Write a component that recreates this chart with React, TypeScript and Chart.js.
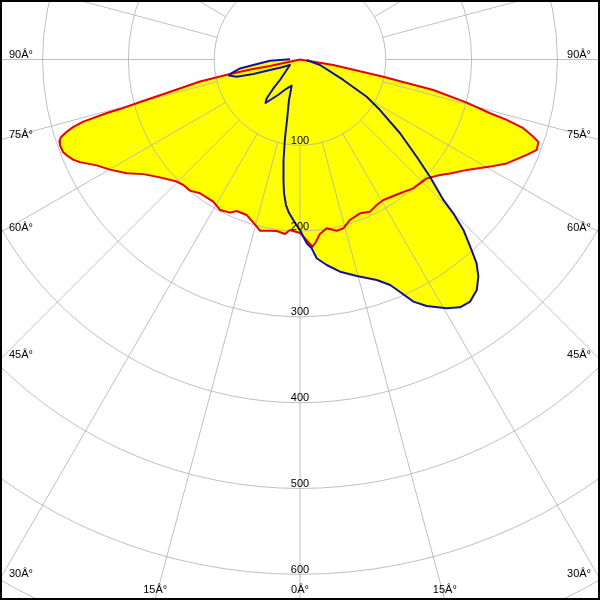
import React, { useEffect, useRef } from 'react';
import { Chart, registerables } from 'chart.js';

Chart.register(...registerables);

// C0-C180 plane (red): polar angle gamma in degrees (negative = left half), intensity in cd
const redAngles = [
  -90, -77.8, -78.6, -78.3, -77.6, -75.9, -75.1, -74.6, -74.5, -74.0, -73.4, -72.8, -72.0, -71.3,
  -70.4, -68.7, -67.6, -66.2, -65.0, -62.5, -59.9, -56.7, -53.8, -49.9, -45.3, -42.9, -40.0, -36.8,
  -31.4, -28.0, -24.6, -22.7, -18.9, -14.5, -13.2, -9.9, -7.7, -4.9, -3.4, 0, 1.6, 2.8, 3.8, 4.7,
  6.5, 9.0, 12.1, 14.4, 17.3, 21.3, 24.7, 27.8, 30.7, 36.8, 41.3, 46.8, 50.5, 52.8, 56.5, 60.6,
  63.3, 67.2, 69.1, 70.9, 71.7, 72.9, 73.7, 74.2, 75.5, 77.1, 77.7, 78.3, 80.6, 90,
];
const redValues = [
  0, 35.8, 55.9, 83.3, 119.3, 160.2, 192.9, 217.6, 233.4, 262.7, 276.0, 284.6, 292.9, 296.0,
  297.0, 296.5, 293.7, 289.1, 283.0, 267.2, 255.9, 241.6, 226.2, 213.3, 202.3, 199.7, 199.5, 194.7,
  194.1, 198.6, 196.3, 191.4, 191.6, 201.3, 204.9, 202.6, 201.7, 204.1, 199.1, 202.2, 208.7, 214.1, 218.7, 214.9,
  204.7, 199.2, 204.1, 203.1, 195.9, 192.4, 195.2, 191.7, 190.4, 194.7, 199.9, 202.4, 211.5, 219.6, 233.1, 254.3,
  269.6, 286.7, 295.3, 294.1, 286.4, 272.3, 251.0, 230.2, 200.7, 159.4, 119.4, 99.1, 39.3, 0,
];

// C90-C270 plane (blue)
const blueAngles = [
  -91.1, -87.7, -83.3, -81.5, -78.8, -77.3, -74.8, -72.75, -70.7, -66.6, -61.2, -44.3, -42.5, -40.5,
  -38.4, -31.8, -25.4, -17.7, -15.2, -12.1, -10.8, -9.3, -7.8, -6.8, -5.5, -4.3, -2.4, -1.0, 0,
  1.1, 2.1, 3.55, 4.8, 7.4, 10.7, 14.7, 19.2, 21.8, 23.3, 25.1, 27.2, 30.5, 32.85, 35.1, 37.5,
  39.4, 40.9, 42.0, 43.8, 44.9, 45.6, 47.95, 50.2, 53.6, 57.7, 60.85, 64.7, 74.6, 86,
];
const blueValues = [
  11.7, 35.0, 54.8, 70.7, 81.2, 84.8, 76.5, 57.0, 37.0, 22.9, 13.3, 33.4, 46.6, 59.8,
  64.7, 48.7, 38.1, 31.8, 48.9, 72.1, 93.5, 118.7, 141.7, 157.1, 170.4, 178.2, 187.2, 194.1, 198.7,
  206.6, 214.4, 220.5, 232.5, 241.5, 251.7, 260.8, 272.1, 283.0, 295.0, 311.6, 323.0, 336.6, 343.8, 344.9, 338.5,
  327.5, 314.4, 298.9, 275.2, 253.1, 233.9, 204.0, 177.0, 144.9, 110.3, 89.0, 55.8, 24.2, 7.8,
];

// grid: intensity rings and angle spokes
const ringValues = [100, 200, 300, 400, 500, 600, 700, 800];
const ringLabels = ['100', '200', '300', '400', '500', '600'];
const spokeAngles = Array.from({ length: 24 }, (_, i) => i * 15);
const angleLabelValues = [-90, -75, -60, -45, -30, -15, 0, 15, 30, 45, 60, 75, 90];

const PX_PER_CD = 0.858;
const CENTER_X = 300;
const CENTER_Y = 59.5;
const SIZE = 600;

const toXY = (angles: number[], values: number[]) =>
  angles.map((g, i) => {
    const a = (g * Math.PI) / 180;
    return { x: values[i] * Math.sin(a), y: values[i] * Math.cos(a) };
  });

const polarGrid = {
  id: 'polarGrid',
  beforeDatasetsDraw(chart: any) {
    const { ctx, scales } = chart;
    const xs = scales.x;
    const ys = scales.y;
    const cx = xs.getPixelForValue(0);
    const cy = ys.getPixelForValue(0);
    const unit = xs.getPixelForValue(1) - cx;
    ctx.save();
    ctx.strokeStyle = 'rgba(175,175,175,0.8)';
    ctx.lineWidth = 1;
    ringValues.forEach((v) => {
      ctx.beginPath();
      ctx.arc(cx, cy, v * unit, 0, Math.PI * 2);
      ctx.stroke();
    });
    spokeAngles.forEach((g) => {
      const a = (g * Math.PI) / 180;
      const r0 = ringValues[0];
      const r1 = 1200;
      ctx.beginPath();
      ctx.moveTo(xs.getPixelForValue(r0 * Math.sin(a)), ys.getPixelForValue(r0 * Math.cos(a)));
      ctx.lineTo(xs.getPixelForValue(r1 * Math.sin(a)), ys.getPixelForValue(r1 * Math.cos(a)));
      ctx.stroke();
    });
    ctx.restore();
  },
  afterDatasetsDraw(chart: any) {
    const { ctx, scales, width: W, height: H } = chart;
    const xs = scales.x;
    const ys = scales.y;
    const cx = xs.getPixelForValue(0);
    const cy = ys.getPixelForValue(0);
    ctx.save();
    ctx.fillStyle = '#000';
    ctx.font = '11px "Liberation Sans", Arial, sans-serif';
    ctx.textBaseline = 'alphabetic';
    // ring labels
    ringLabels.forEach((t, i) => {
      const y = ys.getPixelForValue(ringValues[i]);
      ctx.textAlign = 'center';
      ctx.fillText(t, cx, y - 1.5);
    });
    // angle labels
    angleLabelValues.forEach((g) => {
      const a = (g * Math.PI) / 180;
      const dx = Math.sin(a);
      const dy = Math.cos(a);
      const tSide = Math.abs(dx) < 1e-9 ? Infinity : (dx > 0 ? W - cx : cx) / Math.abs(dx);
      const tBottom = dy < 1e-9 ? Infinity : (H - cy) / dy;
      const txt = `${Math.abs(g)}\u00C2\u00B0`;
      if (tSide < tBottom) {
        const y = cy + tSide * dy;
        if (dx < 0) {
          ctx.textAlign = 'left';
          ctx.fillText(txt, 9, y - 2);
        } else {
          ctx.textAlign = 'right';
          ctx.fillText(txt, W - 9, y - 2);
        }
      } else {
        const x = cx + tBottom * dx;
        ctx.textAlign = 'center';
        ctx.fillText(txt, x, H - 7);
      }
    });
    // frame
    ctx.strokeStyle = '#000';
    ctx.lineWidth = 2;
    ctx.strokeRect(1, 1, W - 2, H - 2);
    ctx.restore();
  },
};

export default function App() {
  const canvasRef = useRef<HTMLCanvasElement | null>(null);

  useEffect(() => {
    if (!canvasRef.current) return;
    const chart = new Chart(canvasRef.current, {
      type: 'scatter',
      data: {
        datasets: [
          {
            label: 'C90-C270',
            data: toXY(blueAngles, blueValues),
            showLine: true,
            borderColor: '#12129c',
            backgroundColor: '#ffff00',
            borderWidth: 2,
            borderJoinStyle: 'round',
            fill: 'shape',
            pointRadius: 0,
            tension: 0,
          },
          {
            label: 'C0-C180',
            data: toXY(redAngles, redValues),
            showLine: true,
            borderColor: '#e60000',
            backgroundColor: '#ffff00',
            borderWidth: 2,
            borderJoinStyle: 'round',
            fill: 'shape',
            pointRadius: 0,
            tension: 0,
          },
        ],
      },
      options: {
        responsive: false,
        animation: false,
        events: [],
        layout: { padding: 0, autoPadding: false },
        scales: {
          x: {
            type: 'linear',
            min: -CENTER_X / PX_PER_CD,
            max: (SIZE - CENTER_X) / PX_PER_CD,
            display: false,
          },
          y: {
            type: 'linear',
            reverse: true,
            min: -CENTER_Y / PX_PER_CD,
            max: (SIZE - CENTER_Y) / PX_PER_CD,
            display: false,
          },
        },
        plugins: {
          legend: { display: false },
          tooltip: { enabled: false },
          filler: { drawTime: 'beforeDatasetsDraw', propagate: false },
        },
      } as any,
      plugins: [polarGrid],
    } as any);
    return () => chart.destroy();
  }, []);

  return (
    <div style={{ position: 'fixed', left: 0, top: 0, width: SIZE, height: SIZE, background: '#fff' }}>
      <canvas ref={canvasRef} width={SIZE} height={SIZE} style={{ display: 'block' }} />
    </div>
  );
}
